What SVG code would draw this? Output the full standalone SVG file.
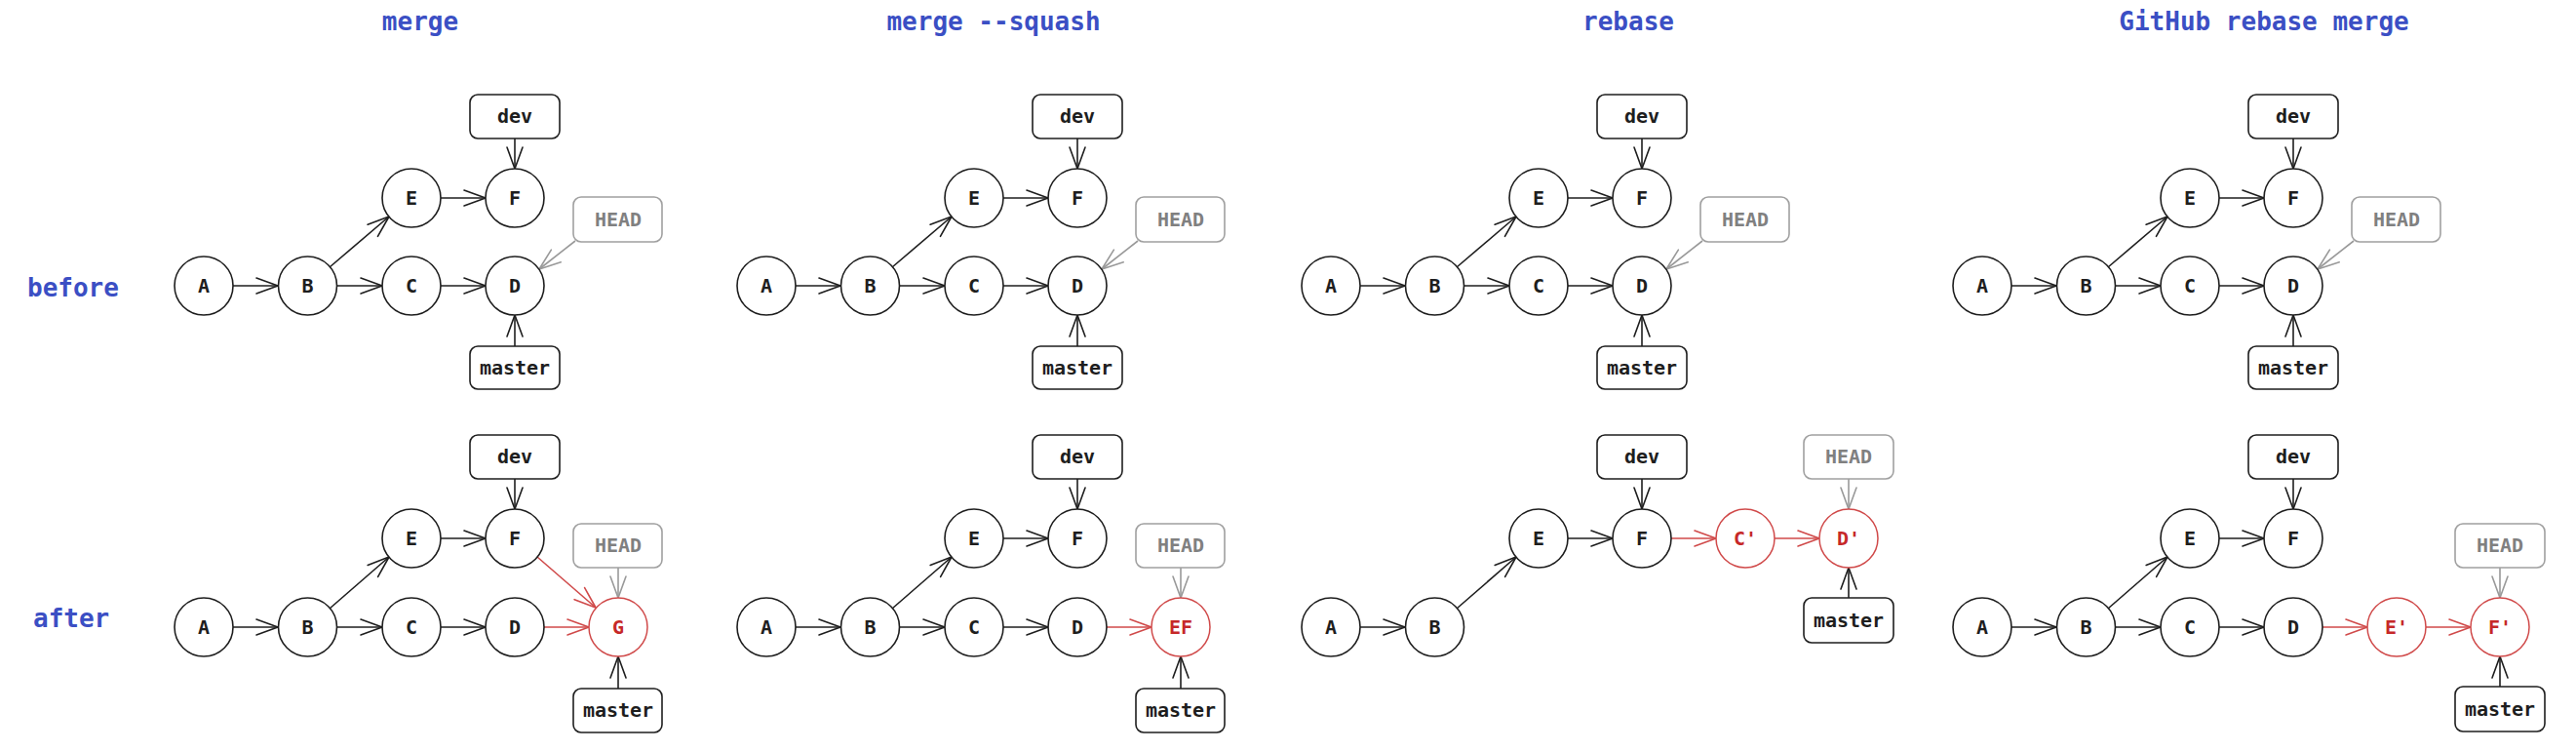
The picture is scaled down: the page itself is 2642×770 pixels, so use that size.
<svg xmlns="http://www.w3.org/2000/svg" width="2642" height="770" viewBox="0 0 2642 770">
<style>
.title{font-family:"DejaVu Sans Mono","Liberation Mono",monospace;font-size:26px;font-weight:bold;fill:#3b4fc4;text-anchor:middle}
.side{font-family:"DejaVu Sans Mono","Liberation Mono",monospace;font-size:26px;font-weight:bold;fill:#3b4fc4}
.c{fill:#fff;stroke:#1e1e1e;stroke-width:1.6}
.cr{fill:#fff;stroke:#d04a4a;stroke-width:1.5}
.t{font-family:"DejaVu Sans Mono","Liberation Mono",monospace;font-size:20px;font-weight:bold;fill:#1e1e1e;text-anchor:middle}
.tr{font-family:"DejaVu Sans Mono","Liberation Mono",monospace;font-size:20px;font-weight:bold;fill:#c62828;text-anchor:middle}
.tg{font-family:"DejaVu Sans Mono","Liberation Mono",monospace;font-size:20px;font-weight:bold;fill:#808080;text-anchor:middle}
.b{fill:#fff;stroke:#1e1e1e;stroke-width:1.6}
.bg{fill:#fff;stroke:#a0a0a0;stroke-width:1.6}
.k{fill:none;stroke:#1e1e1e;stroke-width:1.6;marker-end:url(#ak)}
.r{fill:none;stroke:#d04a4a;stroke-width:1.6;marker-end:url(#ar)}
.g{fill:none;stroke:#999;stroke-width:1.6;marker-end:url(#ag)}
</style>
<defs>
<marker id="ak" viewBox="-24 -10 26 20" refX="0" refY="0" markerWidth="26" markerHeight="20" markerUnits="userSpaceOnUse" orient="auto"><path d="M-22,-8 L0,0 L-22,8" fill="none" stroke="#1e1e1e" stroke-width="1.6" stroke-linecap="round" stroke-linejoin="round"/></marker>
<marker id="ar" viewBox="-24 -10 26 20" refX="0" refY="0" markerWidth="26" markerHeight="20" markerUnits="userSpaceOnUse" orient="auto"><path d="M-22,-8 L0,0 L-22,8" fill="none" stroke="#d04a4a" stroke-width="1.6" stroke-linecap="round" stroke-linejoin="round"/></marker>
<marker id="ag" viewBox="-24 -10 26 20" refX="0" refY="0" markerWidth="26" markerHeight="20" markerUnits="userSpaceOnUse" orient="auto"><path d="M-22,-8 L0,0 L-22,8" fill="none" stroke="#999" stroke-width="1.6" stroke-linecap="round" stroke-linejoin="round"/></marker>
</defs>
<rect width="2642" height="770" fill="#fff"/>

<g id="titles">
<text class="title" x="431" y="31">merge</text>
<text class="title" x="1019" y="31">merge --squash</text>
<text class="title" x="1670" y="31">rebase</text>
<text class="title" x="2322" y="31">GitHub rebase merge</text>
<text class="side" x="28" y="304">before</text>
<text class="side" x="34" y="643">after</text>
</g>

<g id="p1">
<g id="p1-connectors">
<path class="k" d="M239,293 L285,293"/>
<path class="k" d="M345,293 L392,293"/>
<path class="k" d="M452,293 L498,293"/>
<path class="k" d="M338,274 L399,222"/>
<path class="k" d="M452,203 L498,203"/>
<path class="k" d="M528,142 L528,173"/>
<path class="k" d="M528,355 L528,323"/>
<path class="g" d="M590,247 L553,276"/>
<path class="k" d="M239,643 L285,643"/>
<path class="k" d="M345,643 L392,643"/>
<path class="k" d="M452,643 L498,643"/>
<path class="k" d="M338,624 L399,571"/>
<path class="k" d="M452,552 L498,552"/>
<path class="r" d="M551,571 L611,623"/>
<path class="r" d="M558,643 L604,643"/>
<path class="k" d="M528,491 L528,522"/>
<path class="g" d="M634,582 L634,613"/>
<path class="k" d="M634,706 L634,673"/>
</g>
<g id="p1-A1"><circle class="c" cx="209" cy="293" r="30"/><text class="t" x="209" y="300">A</text></g>
<g id="p1-B1"><circle class="c" cx="315.5" cy="293" r="30"/><text class="t" x="315.5" y="300">B</text></g>
<g id="p1-C1"><circle class="c" cx="422" cy="293" r="30"/><text class="t" x="422" y="300">C</text></g>
<g id="p1-D1"><circle class="c" cx="528" cy="293" r="30"/><text class="t" x="528" y="300">D</text></g>
<g id="p1-E1"><circle class="c" cx="422" cy="203" r="30"/><text class="t" x="422" y="210">E</text></g>
<g id="p1-F1"><circle class="c" cx="528" cy="203" r="30"/><text class="t" x="528" y="210">F</text></g>
<g id="p1-dev1"><rect class="b" x="482" y="97" width="92" height="45" rx="8"/><text class="t" x="528" y="126">dev</text></g>
<g id="p1-head1"><rect class="bg" x="588" y="202" width="91" height="46" rx="8"/><text class="tg" x="634" y="232">HEAD</text></g>
<g id="p1-master1"><rect class="b" x="482" y="355" width="92" height="44" rx="8"/><text class="t" x="528" y="384">master</text></g>
<g id="p1-A2"><circle class="c" cx="209" cy="643" r="30"/><text class="t" x="209" y="650">A</text></g>
<g id="p1-B2"><circle class="c" cx="315.5" cy="643" r="30"/><text class="t" x="315.5" y="650">B</text></g>
<g id="p1-C2"><circle class="c" cx="422" cy="643" r="30"/><text class="t" x="422" y="650">C</text></g>
<g id="p1-D2"><circle class="c" cx="528" cy="643" r="30"/><text class="t" x="528" y="650">D</text></g>
<g id="p1-E2"><circle class="c" cx="422" cy="552" r="30"/><text class="t" x="422" y="559">E</text></g>
<g id="p1-F2"><circle class="c" cx="528" cy="552" r="30"/><text class="t" x="528" y="559">F</text></g>
<g id="p1-G2"><circle class="cr" cx="634" cy="643" r="30"/><text class="tr" x="634" y="650">G</text></g>
<g id="p1-dev2"><rect class="b" x="482" y="446" width="92" height="45" rx="8"/><text class="t" x="528" y="475">dev</text></g>
<g id="p1-head2"><rect class="bg" x="588" y="537" width="91" height="45" rx="8"/><text class="tg" x="634" y="566">HEAD</text></g>
<g id="p1-master2"><rect class="b" x="588" y="706" width="91" height="45" rx="8"/><text class="t" x="634" y="735">master</text></g>
</g>

<g id="p2" transform="translate(577,0)">
<g id="p2-connectors">
<path class="k" d="M239,293 L285,293"/>
<path class="k" d="M345,293 L392,293"/>
<path class="k" d="M452,293 L498,293"/>
<path class="k" d="M338,274 L399,222"/>
<path class="k" d="M452,203 L498,203"/>
<path class="k" d="M528,142 L528,173"/>
<path class="k" d="M528,355 L528,323"/>
<path class="g" d="M590,247 L553,276"/>
<path class="k" d="M239,643 L285,643"/>
<path class="k" d="M345,643 L392,643"/>
<path class="k" d="M452,643 L498,643"/>
<path class="k" d="M338,624 L399,571"/>
<path class="k" d="M452,552 L498,552"/>
<path class="r" d="M558,643 L604,643"/>
<path class="k" d="M528,491 L528,522"/>
<path class="g" d="M634,582 L634,613"/>
<path class="k" d="M634,706 L634,673"/>
</g>
<g id="p2-A1"><circle class="c" cx="209" cy="293" r="30"/><text class="t" x="209" y="300">A</text></g>
<g id="p2-B1"><circle class="c" cx="315.5" cy="293" r="30"/><text class="t" x="315.5" y="300">B</text></g>
<g id="p2-C1"><circle class="c" cx="422" cy="293" r="30"/><text class="t" x="422" y="300">C</text></g>
<g id="p2-D1"><circle class="c" cx="528" cy="293" r="30"/><text class="t" x="528" y="300">D</text></g>
<g id="p2-E1"><circle class="c" cx="422" cy="203" r="30"/><text class="t" x="422" y="210">E</text></g>
<g id="p2-F1"><circle class="c" cx="528" cy="203" r="30"/><text class="t" x="528" y="210">F</text></g>
<g id="p2-dev1"><rect class="b" x="482" y="97" width="92" height="45" rx="8"/><text class="t" x="528" y="126">dev</text></g>
<g id="p2-head1"><rect class="bg" x="588" y="202" width="91" height="46" rx="8"/><text class="tg" x="634" y="232">HEAD</text></g>
<g id="p2-master1"><rect class="b" x="482" y="355" width="92" height="44" rx="8"/><text class="t" x="528" y="384">master</text></g>
<g id="p2-A2"><circle class="c" cx="209" cy="643" r="30"/><text class="t" x="209" y="650">A</text></g>
<g id="p2-B2"><circle class="c" cx="315.5" cy="643" r="30"/><text class="t" x="315.5" y="650">B</text></g>
<g id="p2-C2"><circle class="c" cx="422" cy="643" r="30"/><text class="t" x="422" y="650">C</text></g>
<g id="p2-D2"><circle class="c" cx="528" cy="643" r="30"/><text class="t" x="528" y="650">D</text></g>
<g id="p2-E2"><circle class="c" cx="422" cy="552" r="30"/><text class="t" x="422" y="559">E</text></g>
<g id="p2-F2"><circle class="c" cx="528" cy="552" r="30"/><text class="t" x="528" y="559">F</text></g>
<g id="p2-EF2"><circle class="cr" cx="634" cy="643" r="30"/><text class="tr" x="634" y="650">EF</text></g>
<g id="p2-dev2"><rect class="b" x="482" y="446" width="92" height="45" rx="8"/><text class="t" x="528" y="475">dev</text></g>
<g id="p2-head2"><rect class="bg" x="588" y="537" width="91" height="45" rx="8"/><text class="tg" x="634" y="566">HEAD</text></g>
<g id="p2-master2"><rect class="b" x="588" y="706" width="91" height="45" rx="8"/><text class="t" x="634" y="735">master</text></g>
</g>

<g id="p3" transform="translate(1156,0)">
<g id="p3-connectors">
<path class="k" d="M239,293 L285,293"/>
<path class="k" d="M345,293 L392,293"/>
<path class="k" d="M452,293 L498,293"/>
<path class="k" d="M338,274 L399,222"/>
<path class="k" d="M452,203 L498,203"/>
<path class="k" d="M528,142 L528,173"/>
<path class="k" d="M528,355 L528,323"/>
<path class="g" d="M590,247 L553,276"/>
<path class="k" d="M239,643 L285,643"/>
<path class="k" d="M338,624 L399,571"/>
<path class="k" d="M452,552 L498,552"/>
<path class="r" d="M558,552 L604,552"/>
<path class="r" d="M664,552 L710,552"/>
<path class="k" d="M528,491 L528,522"/>
<path class="g" d="M740,491 L740,522"/>
<path class="k" d="M740,613 L740,582"/>
</g>
<g id="p3-A1"><circle class="c" cx="209" cy="293" r="30"/><text class="t" x="209" y="300">A</text></g>
<g id="p3-B1"><circle class="c" cx="315.5" cy="293" r="30"/><text class="t" x="315.5" y="300">B</text></g>
<g id="p3-C1"><circle class="c" cx="422" cy="293" r="30"/><text class="t" x="422" y="300">C</text></g>
<g id="p3-D1"><circle class="c" cx="528" cy="293" r="30"/><text class="t" x="528" y="300">D</text></g>
<g id="p3-E1"><circle class="c" cx="422" cy="203" r="30"/><text class="t" x="422" y="210">E</text></g>
<g id="p3-F1"><circle class="c" cx="528" cy="203" r="30"/><text class="t" x="528" y="210">F</text></g>
<g id="p3-dev1"><rect class="b" x="482" y="97" width="92" height="45" rx="8"/><text class="t" x="528" y="126">dev</text></g>
<g id="p3-head1"><rect class="bg" x="588" y="202" width="91" height="46" rx="8"/><text class="tg" x="634" y="232">HEAD</text></g>
<g id="p3-master1"><rect class="b" x="482" y="355" width="92" height="44" rx="8"/><text class="t" x="528" y="384">master</text></g>
<g id="p3-A2"><circle class="c" cx="209" cy="643" r="30"/><text class="t" x="209" y="650">A</text></g>
<g id="p3-B2"><circle class="c" cx="315.5" cy="643" r="30"/><text class="t" x="315.5" y="650">B</text></g>
<g id="p3-E2"><circle class="c" cx="422" cy="552" r="30"/><text class="t" x="422" y="559">E</text></g>
<g id="p3-F2"><circle class="c" cx="528" cy="552" r="30"/><text class="t" x="528" y="559">F</text></g>
<g id="p3-C2"><circle class="cr" cx="634" cy="552" r="30"/><text class="tr" x="634" y="559">C'</text></g>
<g id="p3-D2"><circle class="cr" cx="740" cy="552" r="30"/><text class="tr" x="740" y="559">D'</text></g>
<g id="p3-dev2"><rect class="b" x="482" y="446" width="92" height="45" rx="8"/><text class="t" x="528" y="475">dev</text></g>
<g id="p3-head2"><rect class="bg" x="694" y="446" width="92" height="45" rx="8"/><text class="tg" x="740" y="475">HEAD</text></g>
<g id="p3-master2"><rect class="b" x="694" y="613" width="92" height="46" rx="8"/><text class="t" x="740" y="643">master</text></g>
</g>

<g id="p4" transform="translate(1824,0)">
<g id="p4-connectors">
<path class="k" d="M239,293 L285,293"/>
<path class="k" d="M345,293 L392,293"/>
<path class="k" d="M452,293 L498,293"/>
<path class="k" d="M338,274 L399,222"/>
<path class="k" d="M452,203 L498,203"/>
<path class="k" d="M528,142 L528,173"/>
<path class="k" d="M528,355 L528,323"/>
<path class="g" d="M590,247 L553,276"/>
<path class="k" d="M239,643 L285,643"/>
<path class="k" d="M345,643 L392,643"/>
<path class="k" d="M452,643 L498,643"/>
<path class="k" d="M338,624 L399,571"/>
<path class="k" d="M452,552 L498,552"/>
<path class="r" d="M558,643 L604,643"/>
<path class="r" d="M664,643 L710,643"/>
<path class="k" d="M528,491 L528,522"/>
<path class="g" d="M740,582 L740,613"/>
<path class="k" d="M740,704 L740,673"/>
</g>
<g id="p4-A1"><circle class="c" cx="209" cy="293" r="30"/><text class="t" x="209" y="300">A</text></g>
<g id="p4-B1"><circle class="c" cx="315.5" cy="293" r="30"/><text class="t" x="315.5" y="300">B</text></g>
<g id="p4-C1"><circle class="c" cx="422" cy="293" r="30"/><text class="t" x="422" y="300">C</text></g>
<g id="p4-D1"><circle class="c" cx="528" cy="293" r="30"/><text class="t" x="528" y="300">D</text></g>
<g id="p4-E1"><circle class="c" cx="422" cy="203" r="30"/><text class="t" x="422" y="210">E</text></g>
<g id="p4-F1"><circle class="c" cx="528" cy="203" r="30"/><text class="t" x="528" y="210">F</text></g>
<g id="p4-dev1"><rect class="b" x="482" y="97" width="92" height="45" rx="8"/><text class="t" x="528" y="126">dev</text></g>
<g id="p4-head1"><rect class="bg" x="588" y="202" width="91" height="46" rx="8"/><text class="tg" x="634" y="232">HEAD</text></g>
<g id="p4-master1"><rect class="b" x="482" y="355" width="92" height="44" rx="8"/><text class="t" x="528" y="384">master</text></g>
<g id="p4-A2"><circle class="c" cx="209" cy="643" r="30"/><text class="t" x="209" y="650">A</text></g>
<g id="p4-B2"><circle class="c" cx="315.5" cy="643" r="30"/><text class="t" x="315.5" y="650">B</text></g>
<g id="p4-C2"><circle class="c" cx="422" cy="643" r="30"/><text class="t" x="422" y="650">C</text></g>
<g id="p4-D2"><circle class="c" cx="528" cy="643" r="30"/><text class="t" x="528" y="650">D</text></g>
<g id="p4-E2"><circle class="c" cx="422" cy="552" r="30"/><text class="t" x="422" y="559">E</text></g>
<g id="p4-F2"><circle class="c" cx="528" cy="552" r="30"/><text class="t" x="528" y="559">F</text></g>
<g id="p4-Ep2"><circle class="cr" cx="634" cy="643" r="30"/><text class="tr" x="634" y="650">E'</text></g>
<g id="p4-Fp2"><circle class="cr" cx="740" cy="643" r="30"/><text class="tr" x="740" y="650">F'</text></g>
<g id="p4-dev2"><rect class="b" x="482" y="446" width="92" height="45" rx="8"/><text class="t" x="528" y="475">dev</text></g>
<g id="p4-head2"><rect class="bg" x="694" y="537" width="92" height="45" rx="8"/><text class="tg" x="740" y="566">HEAD</text></g>
<g id="p4-master2"><rect class="b" x="694" y="704" width="92" height="46" rx="8"/><text class="t" x="740" y="734">master</text></g>
</g>
</svg>
